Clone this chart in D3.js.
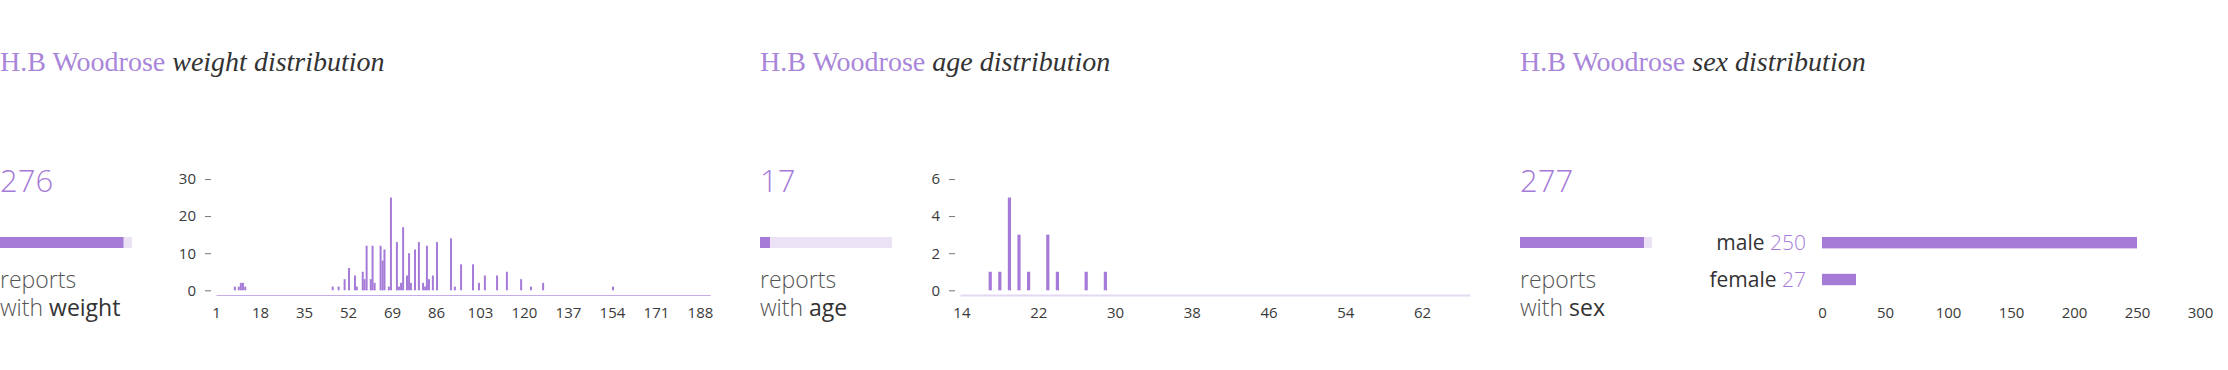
<!DOCTYPE html>
<html>
<head>
<meta charset="utf-8">
<script src="https://cdn.jsdelivr.net/npm/d3@7"></script>
<style>
  body { margin: 0; background: #fff; }
  svg { display: block; }
  .tick text { font-family: 'Open Sans', sans-serif; font-weight: 400; font-size: 15px; fill: #3a3a3a; }
</style>
</head>
<body>
<div id="chart"></div>
<script>
// report counts per field, out of all reports on the substance
const substance = 'H.B Woodrose';
const fields = ['weight', 'age', 'sex'];
const reportCounts = [276, 17, 277];
const totalReports = 295;

// weight histogram (kg -> number of reports)
const weightValues = [8.3, 9.8, 10.6, 11.4, 12.3,
  46.1, 48.4, 50.7, 52.4, 54.7, 55.4, 57.7, 58.4, 59.2, 60.8, 61.5, 62.3,
  64.6, 65.4, 66.1, 67.8, 68.6, 70.9, 71.7, 72.5, 73.3, 74.8, 75.6, 76.3,
  77.9, 79.4, 81.0, 81.8, 82.5, 83.3, 84.8, 86.4, 91.8, 93.3, 95.7,
  100.3, 102.6, 104.9, 109.6, 113.4, 118.9, 122.7, 127.4, 154.4];
const weightCounts = [1, 1, 2, 2, 1,
  1, 1, 3, 6, 4, 1, 5, 3, 12, 3, 12, 2,
  12, 8, 11, 1, 25, 13, 1, 2, 17, 4, 10, 2,
  11, 13, 2, 1, 12, 3, 4, 13, 14, 1, 7,
  7, 2, 4, 4, 5, 3, 1, 2, 1];
const weightXTicks = [1, 18, 35, 52, 69, 86, 103, 120, 137, 154, 171, 188];
const weightYTicks = [0, 10, 20, 30];

// age histogram (years -> number of reports)
const ageValues = [17, 18, 19, 20, 21, 23, 24, 27, 29];
const ageCounts = [1, 1, 5, 3, 1, 3, 1, 1, 1];
const ageXTicks = [14, 22, 30, 38, 46, 54, 62];
const ageYTicks = [0, 2, 4, 6];

// sex breakdown
const sexCategories = ['male', 'female'];
const sexCounts = [250, 27];
const sexXTicks = [0, 50, 100, 150, 200, 250, 300];

const purple = '#a67bd8';
const lightPurple = '#ebe2f6';
const W = 2228, H = 370;
const panelX = [0, 760, 1520];
const baseY = 290.3, topY = 179, axisY = 295;

const svg = d3.select('#chart').append('svg')
  .attr('width', W).attr('height', H);
svg.append('rect').attr('width', W).attr('height', H).attr('fill', '#fff');

fields.forEach((field, i) => {
  const g = svg.append('g').attr('transform', 'translate(' + panelX[i] + ',0)');

  const title = g.append('text')
    .attr('x', 0).attr('y', 70.7)
    .attr('font-family', "'Liberation Serif', serif")
    .attr('font-size', '28px');
  title.append('tspan').attr('fill', '#a986da').text(substance + ' ');
  title.append('tspan').attr('fill', '#333').attr('font-style', 'italic').text(field + ' distribution');

  g.append('text')
    .attr('x', 0).attr('y', 192.3)
    .attr('font-family', "'Open Sans', sans-serif")
    .attr('font-weight', 300)
    .attr('font-size', '31px')
    .attr('fill', purple)
    .text(reportCounts[i]);

  const share = d3.scaleLinear().domain([0, totalReports]).range([0, 132]);
  g.append('rect').attr('x', 0).attr('y', 237).attr('width', share(totalReports)).attr('height', 11).attr('fill', lightPurple);
  g.append('rect').attr('x', 0).attr('y', 237).attr('width', Math.max(10, share(reportCounts[i]))).attr('height', 11).attr('fill', purple);

  const label = g.append('g')
    .attr('font-family', "'Open Sans', sans-serif")
    .attr('font-size', '23px');
  label.append('text').attr('x', 0).attr('y', 288)
    .attr('font-weight', 300).attr('fill', '#555').text('reports');
  const l2 = label.append('text').attr('x', 0).attr('y', 316);
  l2.append('tspan').attr('font-weight', 300).attr('fill', '#555').text('with ');
  l2.append('tspan').attr('font-weight', 400).attr('fill', '#333').text(field);
});

function histogram(g, values, counts, xDomain, xRange, xTicks, yTicks, lineColor, lineWidth, barW) {
  const x = d3.scaleLinear().domain(xDomain).range(xRange);
  const y = d3.scaleLinear().domain([0, d3.max(yTicks)]).range([baseY, topY]);

  g.append('g')
    .selectAll('rect')
    .data(values.map((v, i) => ({v: v, c: counts[i]})))
    .enter()
    .append('rect')
    .attr('x', d => x(d.v) - barW / 2)
    .attr('y', d => y(d.c))
    .attr('width', barW)
    .attr('height', d => y(0) - y(d.c))
    .attr('fill', purple);

  const xa = g.append('g')
    .attr('transform', 'translate(0,' + axisY + ')')
    .call(d3.axisBottom(x).tickValues(xTicks).tickSize(0).tickPadding(12).tickFormat(d3.format('d')));
  xa.select('.domain').attr('stroke', lineColor).attr('stroke-width', lineWidth);

  const ya = g.append('g')
    .attr('transform', 'translate(' + (xRange[0] - 5) + ',0)')
    .call(d3.axisLeft(y).tickValues(yTicks).tickSize(6).tickPadding(9).tickFormat(d3.format('d')));
  ya.select('.domain').remove();
  ya.selectAll('.tick line').attr('stroke', '#777');
}

const gw = svg.append('g').attr('transform', 'translate(' + panelX[0] + ',0)');
histogram(gw, weightValues, weightCounts, [1, 192], [216, 710.3], weightXTicks, weightYTicks, '#c6ade9', 1.2, 2);

const ga = svg.append('g').attr('transform', 'translate(' + panelX[1] + ',0)');
histogram(ga, ageValues, ageCounts, [13.85, 67], [200, 710], ageXTicks, ageYTicks, '#e4d9f4', 2, 3.2);

// sex: horizontal bars
const gs = svg.append('g').attr('transform', 'translate(' + panelX[2] + ',0)');
const xs = d3.scaleLinear().domain([0, 300]).range([302, 680]);
const ys = d3.scaleBand().domain(sexCategories).range([211.6, 310.6]).padding(0.69);

gs.selectAll('rect.sex')
  .data(sexCategories.map((c, i) => ({c: c, n: sexCounts[i]})))
  .enter()
  .append('rect')
  .attr('class', 'sex')
  .attr('x', xs(0))
  .attr('y', d => ys(d.c))
  .attr('width', d => xs(d.n) - xs(0))
  .attr('height', ys.bandwidth())
  .attr('fill', purple);

const sl = gs.selectAll('text.sexlabel')
  .data(sexCategories.map((c, i) => ({c: c, n: sexCounts[i]})))
  .enter()
  .append('text')
  .attr('class', 'sexlabel')
  .attr('x', xs(0) - 16)
  .attr('y', d => ys(d.c) + ys.bandwidth() / 2 + 7.5)
  .attr('text-anchor', 'end')
  .attr('font-family', "'Open Sans', sans-serif")
  .attr('font-weight', 300)
  .attr('font-size', '21px');
sl.append('tspan').attr('fill', '#333').attr('font-weight', 400).text(d => d.c + ' ');
sl.append('tspan').attr('fill', purple).text(d => d.n);

const sa = gs.append('g')
  .attr('transform', 'translate(0,' + axisY + ')')
  .call(d3.axisBottom(xs).tickValues(sexXTicks).tickSize(0).tickPadding(12));
sa.select('.domain').remove();
</script>
</body>
</html>
